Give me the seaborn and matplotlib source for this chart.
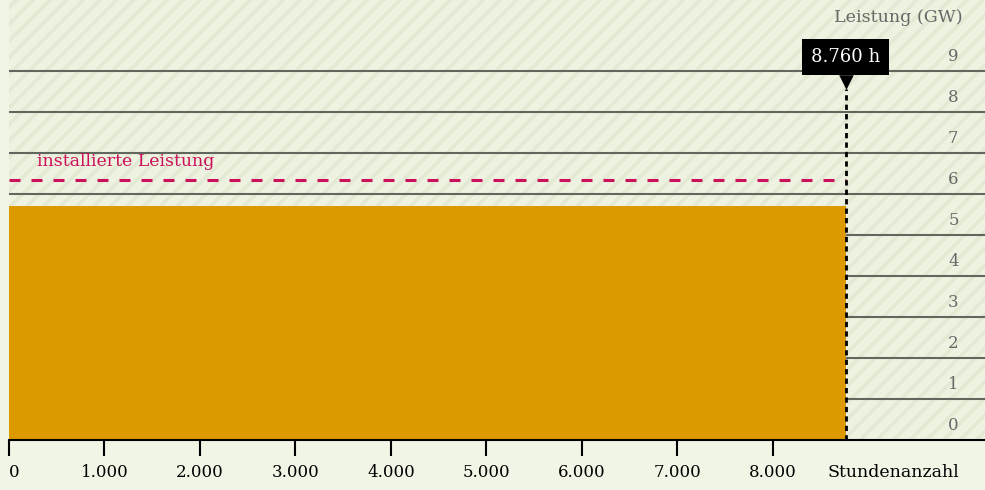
import matplotlib
matplotlib.use("Agg")
import matplotlib.pyplot as plt
import matplotlib.patches as mpatches
import seaborn as sns
import pandas as pd

# data
hours_total = 8760
output_gw = 5.7
installed_gw = 6.35
x_ticks = [0, 1000, 2000, 3000, 4000, 5000, 6000, 7000, 8000]
x_labels = ["0", "1.000", "2.000", "3.000", "4.000", "5.000", "6.000", "7.000", "8.000"]
y_ticks = [0, 1, 2, 3, 4, 5, 6, 7, 8, 9]

BG = "#f1f5e5"
AX_BG = "#eef2e1"
HATCH = "#e3ead3"
GRID = "#62675d"
BAR = "#dd9a00"
MAGENTA = "#cc1059"
LABEL_GREY = "#686868"

sns.set_theme(style="white")
plt.rcParams["font.family"] = ["DejaVu Serif"]
plt.rcParams["hatch.linewidth"] = 2.6

fig = plt.figure(figsize=(9.85, 4.9), dpi=100, facecolor=BG)
ax = fig.add_axes([9 / 985, 50 / 490, 976 / 985, 440 / 490])
ax.set_facecolor(AX_BG)
ax.set_xlim(0, 10220)
ax.set_ylim(0, 10.73)

# hatched background
ax.add_patch(mpatches.Rectangle((0, 0), 1, 1, transform=ax.transAxes, facecolor=AX_BG,
                                edgecolor=HATCH, hatch="//", linewidth=0, zorder=0))

# horizontal gridlines + labels on the right
for y in y_ticks:
    if y > 0:
        ax.axhline(y, color=GRID, lw=1.5, zorder=1)
    ax.text(0.973, y + 0.35, str(y), transform=ax.get_yaxis_transform(), ha="right",
            va="center", fontsize=12, color=LABEL_GREY, zorder=5)
ax.text(0.977, 10.3, "Leistung (GW)", transform=ax.get_yaxis_transform(), ha="right",
        va="center", fontsize=12.6, color=LABEL_GREY)

# bar for full-year output
ax.bar(0, output_gw, width=hours_total, align="edge", color=BAR, linewidth=0, zorder=2)

# installed capacity line
df_inst = pd.DataFrame({"h": [0, hours_total], "gw": [installed_gw, installed_gw]})
sns.lineplot(data=df_inst, x="h", y="gw", ax=ax, color=MAGENTA, lw=2.2, zorder=3)
ax.lines[-1].set_dashes([3.6, 3.6])
ax.text(290, 6.78, "installierte Leistung", color=MAGENTA, fontsize=12.5,
        va="center", ha="left", zorder=5)

# vertical marker at 8760 h
ax.plot([hours_total, hours_total], [0, 8.55], color="black", lw=2.0,
        ls=(0, (1.9, 1.5)), zorder=4)
ax.scatter([hours_total], [8.72], marker="v", s=110, color="black", zorder=6, linewidths=0)
ax.text(hours_total, 9.34, "8.760 h", color="white", fontsize=13, ha="center", va="center",
        zorder=7, bbox=dict(boxstyle="square,pad=0.5", fc="black", ec="none"))

# x axis
for s in ["top", "right", "left"]:
    ax.spines[s].set_visible(False)
ax.spines["bottom"].set_color("black")
ax.spines["bottom"].set_linewidth(1.5)
ax.spines["bottom"].set_zorder(6)
ax.set_xticks(x_ticks)
ax.set_xticklabels(x_labels, fontsize=12, color="black")
ax.tick_params(axis="x", direction="out", length=11.5, width=1.5, color="black", pad=6,
               bottom=True)
ax.get_xticklabels()[0].set_horizontalalignment("left")
ax.set_yticks([])
ax.set_xlabel("")
ax.set_ylabel("")
ax.text(8570, -0.8, "Stundenanzahl", fontsize=12.5, color="black", ha="left", va="center",
        clip_on=False)

fig.savefig("out.png", dpi=100, facecolor=BG)
